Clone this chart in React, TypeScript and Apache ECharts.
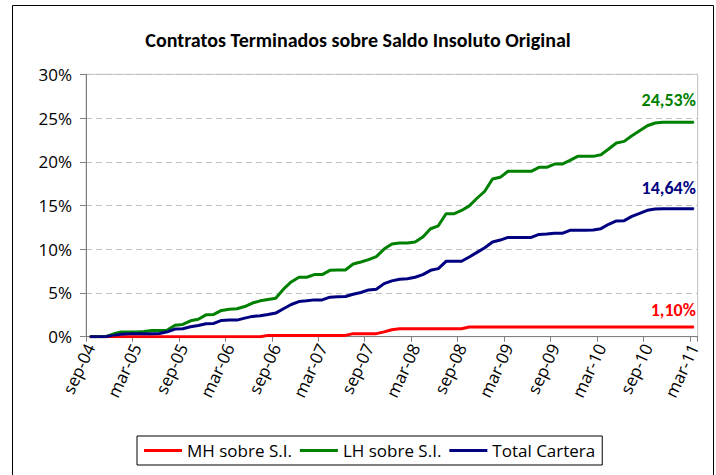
import React, { useEffect, useRef } from "react";
import * as echarts from "echarts";

const MONTHS = ["ene", "feb", "mar", "abr", "may", "jun", "jul", "ago", "sep", "oct", "nov", "dic"];
const START_YEAR = 2004;
const START_MONTH = 8; // sep
const N_MONTHS = 79; // sep-04 .. mar-11

const categories: string[] = [];
for (let i = 0; i < N_MONTHS; i++) {
  const m = (START_MONTH + i) % 12;
  const y = START_YEAR + Math.floor((START_MONTH + i) / 12);
  categories.push(MONTHS[m] + "-" + String(y % 100).padStart(2, "0"));
}

const SERIES_NAMES = ["MH sobre S.I.", "LH sobre S.I.", "Total Cartera"];

const mhValues = [
  0, 0, 0, 0, 0, 0, 0, 0, 0, 0,
  0, 0, 0, 0, 0, 0, 0, 0, 0, 0,
  0, 0, 0, 0.15, 0.15, 0.15, 0.15, 0.15, 0.15, 0.15,
  0.15, 0.15, 0.15, 0.15, 0.35, 0.35, 0.35, 0.35, 0.55, 0.8,
  0.9, 0.9, 0.9, 0.9, 0.9, 0.9, 0.9, 0.9, 0.9, 1.1,
  1.1, 1.1, 1.1, 1.1, 1.1, 1.1, 1.1, 1.1, 1.1, 1.1,
  1.1, 1.1, 1.1, 1.1, 1.1, 1.1, 1.1, 1.1, 1.1, 1.1,
  1.1, 1.1, 1.1, 1.1, 1.1, 1.1, 1.1, 1.1, 1.1,
];

const lhValues = [
  0, 0, 0, 0.3, 0.53, 0.53, 0.55, 0.6, 0.72, 0.72,
  0.75, 1.3, 1.4, 1.82, 2.0, 2.5, 2.55, 3.0, 3.15, 3.2,
  3.45, 3.85, 4.1, 4.25, 4.4, 5.43, 6.26, 6.8, 6.8, 7.1,
  7.1, 7.59, 7.63, 7.63, 8.31, 8.54, 8.81, 9.15, 10.02, 10.59,
  10.72, 10.72, 10.82, 11.39, 12.34, 12.68, 14.05, 14.05, 14.43, 14.96,
  15.83, 16.63, 18.03, 18.22, 18.91, 18.91, 18.91, 18.91, 19.36, 19.36,
  19.74, 19.74, 20.16, 20.62, 20.62, 20.62, 20.81, 21.46, 22.14, 22.33,
  22.98, 23.55, 24.12, 24.43, 24.53, 24.53, 24.53, 24.53, 24.53,
];

const totalValues = [
  0, 0, 0, 0.15, 0.27, 0.34, 0.34, 0.34, 0.34, 0.36,
  0.57, 0.87, 0.91, 1.14, 1.29, 1.48, 1.52, 1.86, 1.9, 1.9,
  2.12, 2.32, 2.39, 2.54, 2.7, 3.19, 3.68, 4.02, 4.1, 4.21,
  4.21, 4.52, 4.56, 4.59, 4.86, 5.05, 5.35, 5.43, 6.07, 6.38,
  6.57, 6.62, 6.8, 7.1, 7.59, 7.78, 8.62, 8.62, 8.62, 9.11,
  9.64, 10.17, 10.82, 11.05, 11.35, 11.35, 11.35, 11.35, 11.69, 11.73,
  11.82, 11.82, 12.16, 12.16, 12.16, 12.2, 12.35, 12.85, 13.23, 13.27,
  13.76, 14.1, 14.45, 14.6, 14.64, 14.64, 14.64, 14.64, 14.64,
];

const COLORS = ["#ff0000", "#008000", "#000080"];
const LABEL_DIST = [8, 13, 11];
const FONT_T = "Carlito, Calibri, Lato, sans-serif";
const FONT = "'Open Sans', sans-serif";

function withEndLabel(values: number[], color: string, dist: number) {
  return values.map((v, i) => {
    if (i !== values.length - 1) return v;
    return {
      value: v,
      label: {
        show: true,
        position: "top",
        align: "right",
        distance: dist,
        offset: [2, 0],
        color,
        fontFamily: FONT_T,
        fontWeight: "bold",
        fontSize: 18,
        formatter: (p: any) => p.value.toFixed(2).replace(".", ",") + "%",
      },
    };
  });
}

export default function App() {
  const ref = useRef<HTMLDivElement>(null);
  useEffect(() => {
    if (!ref.current) return;
    const chart = echarts.init(ref.current, undefined, { renderer: "svg" });
    const all = [mhValues, lhValues, totalValues];
    chart.setOption({
      animation: false,
      backgroundColor: "#ffffff",
      title: {
        text: "Contratos Terminados sobre Saldo Insoluto Original",
        left: "center",
        top: 25,
        textStyle: { fontFamily: FONT_T, fontWeight: "bold", fontSize: 20, color: "#000" },
      },
      graphic: [
        {
          type: "rect",
          shape: { x: 12.5, y: 5.5, width: 701, height: 480 },
          style: { fill: "none", stroke: "#000", lineWidth: 1 },
          silent: true,
        },
      ],
      legend: {
        data: SERIES_NAMES,
        left: 137,
        top: 436,
        icon: "rect",
        itemWidth: 38,
        itemHeight: 3,
        itemGap: 8,
        padding: [6, 7, 6, 7],
        borderColor: "#000",
        borderWidth: 1,
        textStyle: { fontFamily: FONT, fontSize: 17, color: "#000" },
      },
      grid: {
        left: 86,
        right: 18.3,
        top: 74.3,
        bottom: 138.3,
        containLabel: false,
        show: true,
        borderColor: "#c0c0c0",
        borderWidth: 1,
      },
      xAxis: {
        type: "category",
        data: categories,
        boundaryGap: true,
        axisLine: { lineStyle: { color: "#808080", width: 1 } },
        axisTick: { show: true, interval: 5, length: 5, lineStyle: { color: "#808080" } },
        axisLabel: {
          interval: 5,
          rotate: 65,
          margin: 8,
          fontFamily: FONT,
          fontSize: 17,
          color: "#000",
        },
        splitLine: { show: false },
      },
      yAxis: {
        type: "value",
        min: 0,
        max: 30,
        interval: 5,
        axisLine: { show: true, lineStyle: { color: "#808080", width: 1 } },
        axisTick: { show: true, length: 6, lineStyle: { color: "#808080" } },
        axisLabel: {
          formatter: "{value}%",
          margin: 14,
          fontFamily: FONT,
          fontSize: 17,
          color: "#000",
        },
        splitLine: { show: true, lineStyle: { color: "#c0c0c0", type: [6, 4], width: 1 } },
      },
      series: SERIES_NAMES.map((name, k) => ({
        name,
        type: "line",
        data: withEndLabel(all[k], COLORS[k], LABEL_DIST[k]),
        symbol: "circle",
        symbolSize: 1,
        showSymbol: true,
        color: COLORS[k],
        itemStyle: { color: COLORS[k] },
        lineStyle: { color: COLORS[k], width: 3 },
        emphasis: { disabled: true },
      })),
    });
    return () => chart.dispose();
  }, []);
  return (
    <div
      ref={ref}
      style={{ position: "fixed", left: 0, top: 0, width: 716, height: 475 }}
    />
  );
}
